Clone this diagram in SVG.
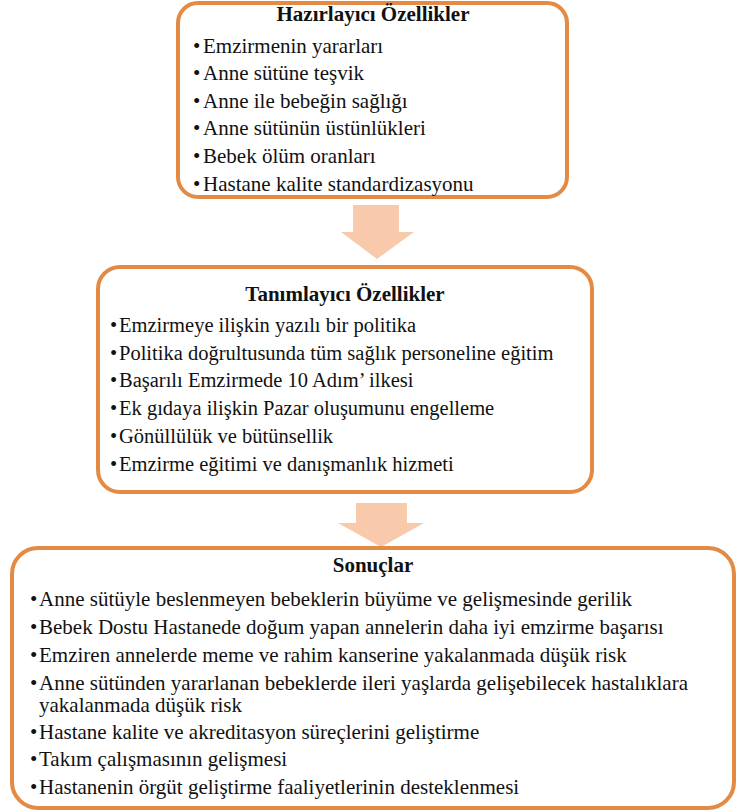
<svg xmlns="http://www.w3.org/2000/svg" width="737" height="812" viewBox="0 0 737 812">
<defs>
<style>
.box{fill:#ffffff;stroke:#E38A45;stroke-width:4}
.arrow{fill:#F8C9AB;stroke:none}
</style>
</defs>
<rect width="737" height="812" fill="#ffffff"/>
<g id="connectors">
<polygon class="arrow" points="353,205 399,205 399,232 414,232 377,259 341,232 353,232"/>
<polygon class="arrow" points="356,503 407,503 407,523 424,523 381,547 338,523 356,523"/>
</g>
<g id="hazirlayici" fill="#111111">
<rect class="box" x="178" y="3" width="389" height="194" rx="20"/>
<text x="373" y="21" text-anchor="middle" style="font-family:'Liberation Serif',serif !important;font-size:21px;font-weight:bold">Hazırlayıcı Özellikler</text>
<text x="193" y="53" style="font-family:'Liberation Serif',serif !important;font-size:21px">•</text><text x="203" y="53" style="font-family:'Liberation Serif',serif !important;font-size:21px">Emzirmenin yararları</text>
<text x="193" y="80" style="font-family:'Liberation Serif',serif !important;font-size:21px">•</text><text x="203" y="80" style="font-family:'Liberation Serif',serif !important;font-size:21px">Anne sütüne teşvik</text>
<text x="193" y="108" style="font-family:'Liberation Serif',serif !important;font-size:21px">•</text><text x="203" y="108" style="font-family:'Liberation Serif',serif !important;font-size:21px">Anne ile bebeğin sağlığı</text>
<text x="193" y="135" style="font-family:'Liberation Serif',serif !important;font-size:21px">•</text><text x="203" y="135" style="font-family:'Liberation Serif',serif !important;font-size:21px">Anne sütünün üstünlükleri</text>
<text x="193" y="163" style="font-family:'Liberation Serif',serif !important;font-size:21px">•</text><text x="203" y="163" style="font-family:'Liberation Serif',serif !important;font-size:21px">Bebek ölüm oranları</text>
<text x="193" y="191" style="font-family:'Liberation Serif',serif !important;font-size:21px">•</text><text x="203" y="191" style="font-family:'Liberation Serif',serif !important;font-size:21px">Hastane kalite standardizasyonu</text>
</g>
<g id="tanimlayici" fill="#111111">
<rect class="box" x="98" y="267" width="494" height="225" rx="22"/>
<text x="345" y="301" text-anchor="middle" style="font-family:'Liberation Serif',serif !important;font-size:21px;font-weight:bold">Tanımlayıcı Özellikler</text>
<text x="110" y="332" style="font-family:'Liberation Serif',serif !important;font-size:20.5px">•</text><text x="119" y="332" style="font-family:'Liberation Serif',serif !important;font-size:20.5px">Emzirmeye ilişkin yazılı bir politika</text>
<text x="110" y="360" style="font-family:'Liberation Serif',serif !important;font-size:20.5px">•</text><text x="119" y="360" style="font-family:'Liberation Serif',serif !important;font-size:20.5px">Politika doğrultusunda tüm sağlık personeline eğitim</text>
<text x="110" y="387" style="font-family:'Liberation Serif',serif !important;font-size:20.5px">•</text><text x="119" y="387" style="font-family:'Liberation Serif',serif !important;font-size:20.5px">Başarılı Emzirmede 10 Adım’ ilkesi</text>
<text x="110" y="415" style="font-family:'Liberation Serif',serif !important;font-size:20.5px">•</text><text x="119" y="415" style="font-family:'Liberation Serif',serif !important;font-size:20.5px">Ek gıdaya ilişkin Pazar oluşumunu engelleme</text>
<text x="110" y="443" style="font-family:'Liberation Serif',serif !important;font-size:20.5px">•</text><text x="119" y="443" style="font-family:'Liberation Serif',serif !important;font-size:20.5px">Gönüllülük ve bütünsellik</text>
<text x="110" y="471" style="font-family:'Liberation Serif',serif !important;font-size:20.5px">•</text><text x="119" y="471" style="font-family:'Liberation Serif',serif !important;font-size:20.5px">Emzirme eğitimi ve danışmanlık hizmeti</text>
</g>
<g id="sonuclar" fill="#111111">
<rect class="box" x="12" y="548" width="722" height="260" rx="26"/>
<text x="373" y="572" text-anchor="middle" style="font-family:'Liberation Serif',serif !important;font-size:21px;font-weight:bold">Sonuçlar</text>
<text x="30" y="606" style="font-family:'Liberation Serif',serif !important;font-size:21px">•</text><text x="39" y="606" style="font-family:'Liberation Serif',serif !important;font-size:21px">Anne sütüyle beslenmeyen bebeklerin büyüme ve gelişmesinde gerilik</text>
<text x="30" y="634" style="font-family:'Liberation Serif',serif !important;font-size:21px">•</text><text x="39" y="634" style="font-family:'Liberation Serif',serif !important;font-size:21px">Bebek Dostu Hastanede doğum yapan annelerin daha iyi emzirme başarısı</text>
<text x="30" y="662" style="font-family:'Liberation Serif',serif !important;font-size:21px">•</text><text x="39" y="662" style="font-family:'Liberation Serif',serif !important;font-size:21px">Emziren annelerde meme ve rahim kanserine yakalanmada düşük risk</text>
<text x="30" y="690" style="font-family:'Liberation Serif',serif !important;font-size:21px">•</text><text x="39" y="690" style="font-family:'Liberation Serif',serif !important;font-size:21px">Anne sütünden yararlanan bebeklerde ileri yaşlarda gelişebilecek hastalıklara</text>
<text x="39" y="712" style="font-family:'Liberation Serif',serif !important;font-size:21px">yakalanmada düşük risk</text>
<text x="30" y="739" style="font-family:'Liberation Serif',serif !important;font-size:21px">•</text><text x="39" y="739" style="font-family:'Liberation Serif',serif !important;font-size:21px">Hastane kalite ve akreditasyon süreçlerini geliştirme</text>
<text x="30" y="766" style="font-family:'Liberation Serif',serif !important;font-size:21px">•</text><text x="39" y="766" style="font-family:'Liberation Serif',serif !important;font-size:21px">Takım çalışmasının gelişmesi</text>
<text x="30" y="794" style="font-family:'Liberation Serif',serif !important;font-size:21px">•</text><text x="39" y="794" style="font-family:'Liberation Serif',serif !important;font-size:21px">Hastanenin örgüt geliştirme faaliyetlerinin desteklenmesi</text>
</g>
</svg>
